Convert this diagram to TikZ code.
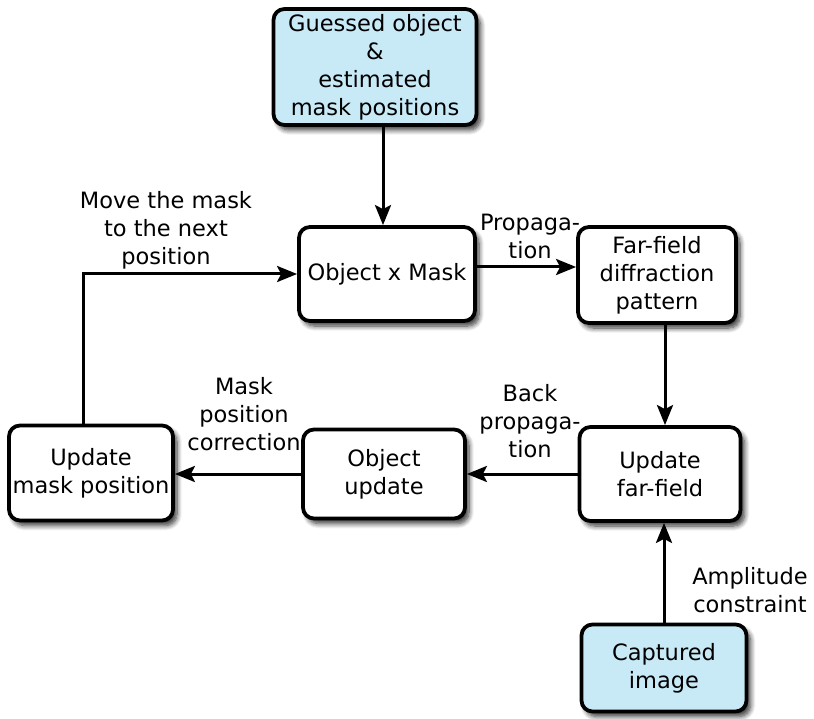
\documentclass[tikz,border=0pt]{standalone}
\usepackage{fontspec}
\setmainfont{DejaVu Sans}
\usetikzlibrary{arrows.meta,shadows.blur}
\definecolor{boxblue}{RGB}{200,234,247}
\begin{document}
\begin{tikzpicture}[x=1pt,y=-1pt,
    font=\fontsize{22.5}{28}\selectfont,
    box/.style={draw, line width=3.8pt, rounded corners=11pt, fill=white, align=center,
      blur shadow={shadow xshift=4pt, shadow yshift=-5pt, shadow blur steps=8, shadow blur radius=5pt, shadow opacity=80}},
    inbox/.style={box, fill=boxblue},
    arr/.style={line width=3pt, -{Stealth[length=20pt,width=16pt,inset=4pt]}},
    lbl/.style={align=center, inner sep=0pt}]
    \useasboundingbox (0,0) rectangle (814,719);
    % boxes
    \node[inbox, minimum width=203pt, minimum height=116pt] (guess) at (375,67) {Guessed object\\\&\\estimated\\mask positions};
    \node[box, minimum width=176pt, minimum height=94pt] (mult) at (387,274) {Object x Mask};
    \node[box, minimum width=158pt, minimum height=96pt] (farfield) at (657,275) {Far-field\\diffraction\\pattern};
    \node[box, minimum width=161pt, minimum height=94pt] (updff) at (660,474) {Update\\far-field};
    \node[box, minimum width=162pt, minimum height=89pt] (objupd) at (384,474) {Object\\update};
    \node[box, minimum width=164pt, minimum height=95pt] (updmask) at (91,473) {Update\\mask position};
    \node[inbox, minimum width=165pt, minimum height=87pt] (capt) at (664,668) {Captured\\image};
    % arrows
    \draw[arr] ([xshift=-4pt]mult.north |- guess.south) -- ([xshift=-4pt]mult.north);
    \draw[arr] ([yshift=7pt]mult.east) -- ([yshift=7pt]mult.east -| farfield.west);
    \draw[arr] ([xshift=8pt]farfield.south) -- ([xshift=8pt]farfield.south |- updff.north);
    \draw[arr] (updff.west) -- (updff.west -| objupd.east);
    \draw[arr] (objupd.west) -- (objupd.west -| updmask.east);
    \draw[arr] ([xshift=-8pt]updmask.north) |- (mult.west);
    \draw[arr] (capt.north) -- (capt.north |- updff.south);
    % labels
    \node[lbl] (lprop) at (530,236) {Propaga-\\tion};
    \node[lbl] (lback) at (530,421) {Back\\propaga-\\tion};
    \node[lbl] (lcorr) at (244,414) {Mask\\position\\correction};
    \node[lbl] (lmove) at (166,230) {Move the mask\\to the next\\position};
    \node[lbl] (lampl) at (750,590) {Amplitude\\constraint};
\end{tikzpicture}
\end{document}
